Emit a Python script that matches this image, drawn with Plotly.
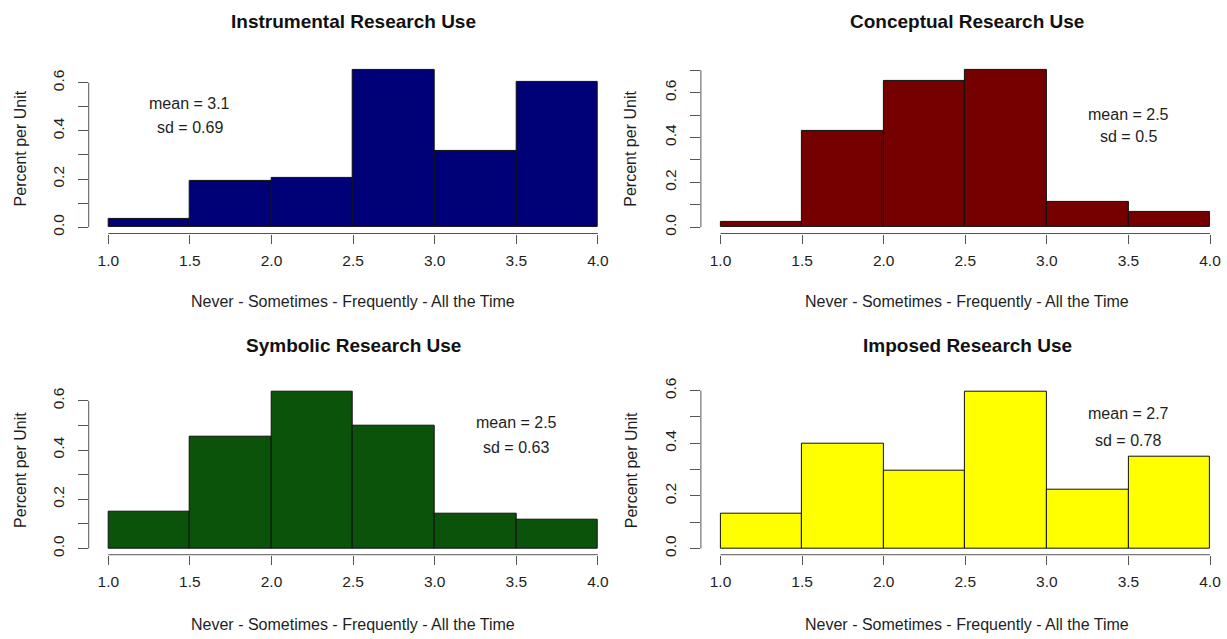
import plotly.graph_objects as go

# ---------------- data ----------------
bin_edges = [1.0, 1.5, 2.0, 2.5, 3.0, 3.5, 4.0]
x_tick_labels = ["1.0", "1.5", "2.0", "2.5", "3.0", "3.5", "4.0"]
y_tick_values = [0.0, 0.1, 0.2, 0.3, 0.4, 0.5, 0.6, 0.7]
y_tick_labels = ["0.0", "", "0.2", "", "0.4", "", "0.6", ""]

titles = ["Instrumental Research Use", "Conceptual Research Use",
          "Symbolic Research Use", "Imposed Research Use"]
instrumental = [0.034, 0.192, 0.206, 0.652, 0.318, 0.603]
conceptual = [0.023, 0.429, 0.654, 0.700, 0.113, 0.067]
symbolic = [0.148, 0.455, 0.636, 0.500, 0.142, 0.116]
imposed = [0.133, 0.399, 0.297, 0.595, 0.223, 0.347]
series = [instrumental, conceptual, symbolic, imposed]

mean_texts = ["mean = 3.1", "mean = 2.5", "mean = 2.5", "mean = 2.7"]
sd_texts = ["sd = 0.69", "sd = 0.5", "sd = 0.63", "sd = 0.78"]
stat_x = [1.5, 3.5, 3.5, 3.5]
mean_y = [0.5, 0.49, 0.5, 0.5]
sd_y = [0.4, 0.39, 0.4, 0.4]

x_label = "Never - Sometimes - Frequently - All the Time"
y_label = "Percent per Unit"

# ---------------- styling / layout ----------------
colors = ["#000077", "#750000", "#0b520b", "#ffff00"]
W, H = 1227, 639
FONT = "Liberation Sans, Arial, Helvetica, sans-serif"
TXT = "#1e1e1e"
AXC = "#555555"

# plot regions (pixels): left, right, top, bottom
col_px = [(88.7, 617.5), (700.9, 1227.0)]
row_px = [(56.8, 229.1), (383.7, 555.4)]
x_ranges = [[0.88, 4.12], [0.88, 4.104]]
title_cx = [353.0, 967.0]
title_cy = [13.5, 343.0]
xlab_cy = [298.0, 626.0]
ylab_cx = [20.7, 631.0]

fig = go.Figure()
shapes = []
annotations = []
layout_axes = {}

centers = [(a + b) / 2 for a, b in zip(bin_edges[:-1], bin_edges[1:])]
widths = [b - a for a, b in zip(bin_edges[:-1], bin_edges[1:])]

for i in range(4):
    r, c = divmod(i, 2)
    n = "" if i == 0 else str(i + 1)
    xa, ya = "x" + n, "y" + n
    vals = series[i]
    m = max(vals)
    yr = [-0.04 * m, 1.04 * m]

    fig.add_trace(go.Bar(
        x=centers, y=vals, width=widths,
        marker=dict(color=colors[i], line=dict(color="#111111", width=1)),
        xaxis=xa, yaxis=ya, showlegend=False, hoverinfo="skip"))

    x0p, x1p = col_px[c]
    t_p, b_p = row_px[r]
    layout_axes["xaxis" + n] = dict(
        domain=[x0p / W, x1p / W], anchor=ya, range=x_ranges[c],
        showgrid=False, zeroline=False, showline=False,
        ticks="outside", ticklen=9, tickwidth=1, tickcolor=AXC,
        tickmode="array", tickvals=bin_edges, ticktext=x_tick_labels,
        tickfont=dict(size=15.5, color=TXT, family=FONT),
        ticklabelstandoff=4, fixedrange=True)
    layout_axes["yaxis" + n] = dict(
        domain=[1 - b_p / H, 1 - t_p / H], anchor=xa, range=yr,
        showgrid=False, zeroline=False, showline=False,
        ticks="outside", ticklen=10, tickwidth=1, tickcolor=AXC,
        tickmode="array", tickvals=y_tick_values, ticktext=y_tick_labels,
        tickangle=-90,
        tickfont=dict(size=15.5, color=TXT, family=FONT),
        ticklabelstandoff=8, fixedrange=True)

    top_tick = max(v for v in y_tick_values if v <= yr[1])
    shapes.append(dict(type="line", xref=xa + " domain", yref=ya,
                       x0=0, x1=0, y0=y_tick_values[0], y1=top_tick,
                       line=dict(color=AXC, width=1)))
    shapes.append(dict(type="line", xref=xa, yref=ya + " domain",
                       x0=bin_edges[0], x1=bin_edges[-1], y0=0, y1=0,
                       line=dict(color=AXC, width=1)))

    annotations.append(dict(text="<b>" + titles[i] + "</b>", xref="paper", yref="paper",
                            x=title_cx[c] / W, y=1 - title_cy[r] / H,
                            xanchor="center", yanchor="middle", showarrow=False,
                            font=dict(size=19, color="#111111", family=FONT)))
    annotations.append(dict(text=x_label, xref="paper", yref="paper",
                            x=title_cx[c] / W, y=1 - xlab_cy[r] / H,
                            xanchor="center", yanchor="middle", showarrow=False,
                            font=dict(size=16, color=TXT, family=FONT)))
    annotations.append(dict(text=y_label, xref="paper", yref="paper",
                            x=ylab_cx[c] / W, y=1 - ((t_p + b_p) / 2) / H,
                            xanchor="center", yanchor="middle", showarrow=False,
                            textangle=-90,
                            font=dict(size=16, color=TXT, family=FONT)))
    annotations.append(dict(text=mean_texts[i], xref=xa, yref=ya,
                            x=stat_x[i], y=mean_y[i], showarrow=False,
                            xanchor="center", yanchor="middle", yshift=3,
                            font=dict(size=16, color=TXT, family=FONT)))
    annotations.append(dict(text=sd_texts[i], xref=xa, yref=ya,
                            x=stat_x[i], y=sd_y[i], showarrow=False,
                            xanchor="center", yanchor="middle", yshift=3,
                            font=dict(size=16, color=TXT, family=FONT)))

fig.update_layout(
    width=W, height=H, margin=dict(l=0, r=0, t=0, b=0),
    paper_bgcolor="white", plot_bgcolor="white",
    font=dict(family=FONT, color=TXT),
    bargap=0, shapes=shapes, annotations=annotations,
    **layout_axes)

fig.write_html("out.html", config={"displayModeBar": False},
               post_script="document.body.style.margin='0';document.body.style.overflow='hidden';")
